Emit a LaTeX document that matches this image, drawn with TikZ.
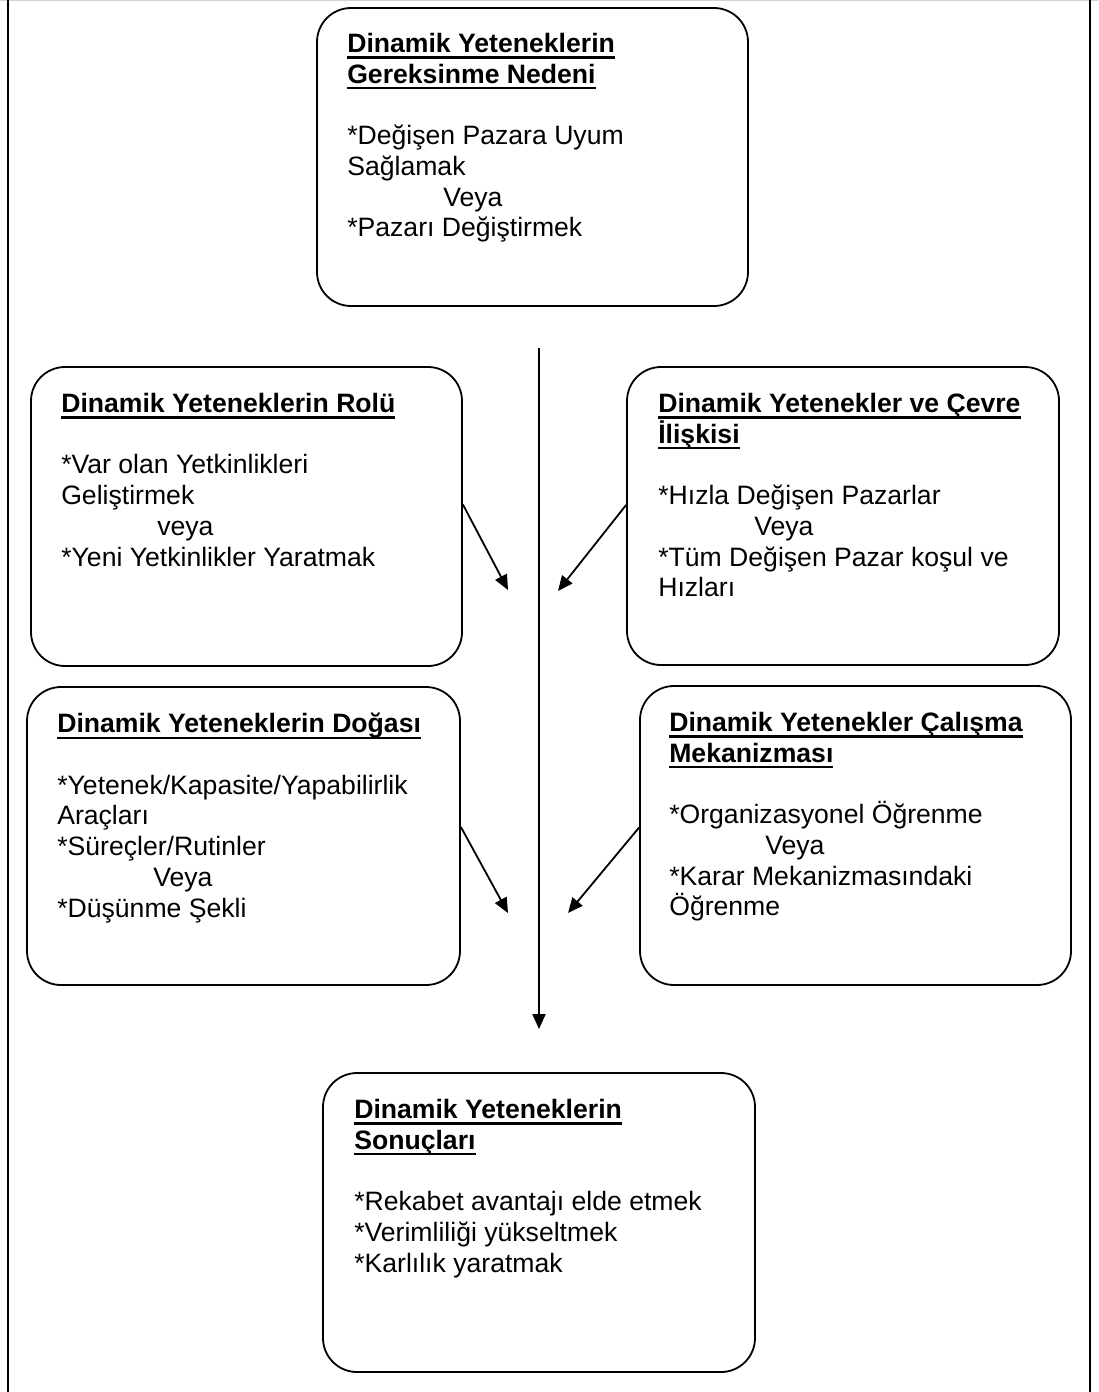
\documentclass[tikz,border=0pt]{standalone}
\usepackage{fontspec}
\setmainfont{Liberation Sans}
\usetikzlibrary{arrows.meta,positioning}
\newcommand{\ulhead}[1]{\leavevmode\setbox0\hbox{\bfseries #1}\rlap{\rule[-6pt]{\wd0}{2.2pt}}\box0}
\newcommand{\orline}[1]{\hspace*{96pt}#1}

\begin{document}
\begin{tikzpicture}[x=1pt,y=-1pt,box/.style={draw,line width=1.8pt,rounded corners=34pt,minimum width=431pt,minimum height=299pt,inner sep=0pt},txt/.style={anchor=north west,inner sep=0pt,align=left,font=\fontsize{26.6pt}{30.7pt}\selectfont},arrow/.style={-{Triangle[length=15pt,width=13pt]},line width=1.8pt}]
 \useasboundingbox (0,0) rectangle (1098,1392);
 % frame
 \draw[gray!35,line width=1pt] (0,0.5) -- (1098,0.5);
 \draw[line width=1.6pt] (8,0) -- (8,1392);
 \draw[line width=1.6pt] (1090,0) -- (1090,1392);
 % boxes
 \node[box,minimum height=298pt] (need) at (532.5,157) {};
 \node[box] (role) at (246.5,516.5) {};
 \node[box,minimum width=432pt,minimum height=298pt] (env) at (843,516) {};
 \node[box,minimum width=433pt,minimum height=298pt] (nature) at (243.5,836) {};
 \node[box] (mech) at (855.5,835.5) {};
 \node[box,minimum width=432pt] (result) at (539,1222.5) {};
 % texts
 \node[txt] (needT) at ([xshift=31pt,yshift=-26pt]need.north west) {\ulhead{Dinamik Yeteneklerin}\\\ulhead{Gereksinme Nedeni}\\[30.7pt]*Değişen Pazara Uyum\\Sağlamak\\\orline{Veya}\\*Pazarı Değiştirmek};
 \node[txt] (roleT) at ([xshift=31pt,yshift=-27pt]role.north west) {\ulhead{Dinamik Yeteneklerin Rolü}\\[30.7pt]*Var olan Yetkinlikleri\\Geliştirmek\\\orline{veya}\\*Yeni Yetkinlikler Yaratmak};
 \node[txt] (envT) at ([xshift=32pt,yshift=-27pt]env.north west) {\ulhead{Dinamik Yetenekler ve Çevre}\\\ulhead{İlişkisi}\\[30.7pt]*Hızla Değişen Pazarlar\\\orline{Veya}\\*Tüm Değişen Pazar koşul ve\\Hızları};
 \node[txt] (natureT) at ([xshift=31pt,yshift=-27pt]nature.north west) {\ulhead{Dinamik Yeteneklerin Doğası}\\[30.7pt]*Yetenek/Kapasite/Yapabilirlik\\Araçları\\*Süreçler/Rutinler\\\orline{Veya}\\*Düşünme Şekli};
 \node[txt] (mechT) at ([xshift=30pt,yshift=-27pt]mech.north west) {\ulhead{Dinamik Yetenekler Çalışma}\\\ulhead{Mekanizması}\\[30.7pt]*Organizasyonel Öğrenme\\\orline{Veya}\\*Karar Mekanizmasındaki\\Öğrenme};
 \node[txt] (resultT) at ([xshift=32pt,yshift=-27pt]result.north west) {\ulhead{Dinamik Yeteneklerin}\\\ulhead{Sonuçları}\\[30.7pt]*Rekabet avantajı elde etmek\\*Verimliliği yükseltmek\\*Karlılık yaratmak};
 % arrows
 \path (need.south -| result.north) ++(0,41) coordinate (trunk);
 \draw[arrow] (trunk) -- ([yshift=43pt]result.north);
 \coordinate (tipA) at (508,590);
 \coordinate (tipB) at (558,591);
 \coordinate (tipC) at (508,913);
 \coordinate (tipD) at (568,913);
 \draw[arrow] ([yshift=12pt]role.east) -- (tipA);
 \draw[arrow] ([yshift=11pt]env.west) -- (tipB);
 \draw[arrow] ([yshift=9pt]nature.east) -- (tipC);
 \draw[arrow] ([yshift=8pt]mech.west) -- (tipD);
\end{tikzpicture}
\end{document}
